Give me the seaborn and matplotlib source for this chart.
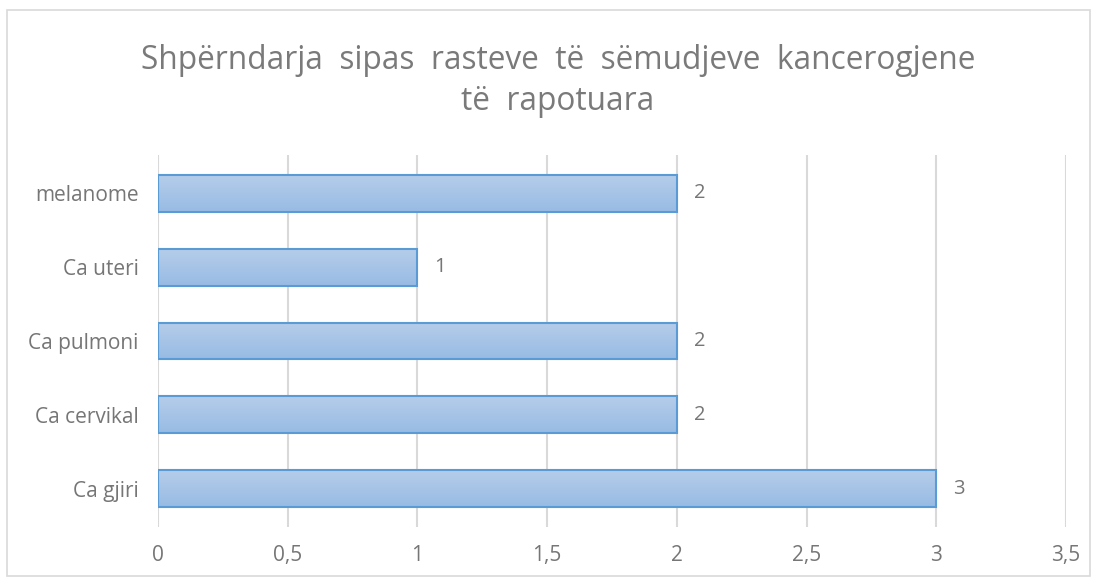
import numpy as np
import matplotlib
matplotlib.use("Agg")
import matplotlib.pyplot as plt
from matplotlib.patches import Rectangle
import seaborn as sns

# data
categories = ["melanome", "Ca uteri", "Ca pulmoni", "Ca cervikal", "Ca gjiri"]
cases = [2, 1, 2, 2, 3]
x_ticks = [0, 0.5, 1, 1.5, 2, 2.5, 3, 3.5]
x_tick_labels = ["0", "0,5", "1", "1,5", "2", "2,5", "3", "3,5"]
title = "Shpërndarja  sipas  rasteve  të  sëmudjeve  kancerogjene\ntë  rapotuara"

sns.set_theme(style="white")
plt.rcParams["font.family"] = ["Open Sans", "DejaVu Sans"]

grey = "#767676"
edge = "#5B9BD5"

fig = plt.figure(figsize=(10.97, 5.82), dpi=100)
ax = fig.add_axes([158 / 1097, 1 - 527 / 582, (1066 - 158) / 1097, (527 - 155) / 582])

sns.barplot(x=cases, y=categories, orient="h", width=0.5, color="#A9C6E8",
            edgecolor=edge, linewidth=1.5, ax=ax, zorder=3)

# vertical gradient inside each bar
grad = np.linspace(0, 1, 64).reshape(-1, 1)
cmap = matplotlib.colors.LinearSegmentedColormap.from_list("g", ["#B5CDEA", "#98BBE4"])
for p in ax.patches:
    x0, y0 = p.get_x(), p.get_y()
    w, h = p.get_width(), p.get_height()
    im = ax.imshow(grad, extent=(x0, x0 + w, y0 + h, y0), cmap=cmap, aspect="auto",
                   origin="upper", zorder=3)
    im.set_clip_path(p)
    p.set_facecolor("none")
    p.set_zorder(4)

for i, v in enumerate(cases):
    ax.text(v + 0.065, i, str(v), va="center", ha="left", fontsize=14.5, color=grey)

ax.set_xlim(0, 3.5)
ax.set_ylim(4.52, -0.52)
ax.set_xticks(x_ticks)
ax.set_xticklabels(x_tick_labels)
ax.grid(axis="x", color="#D9D9D9", linewidth=1.5, zorder=0)
ax.set_axisbelow(True)
for s in ax.spines.values():
    s.set_visible(False)
ax.tick_params(axis="both", length=0, labelsize=15, labelcolor=grey)
ax.tick_params(axis="x", pad=13)
ax.tick_params(axis="y", pad=14)
ax.set_xlabel("")
ax.set_ylabel("")

fig.text(558 / 1097, 1 - 81 / 582, title, ha="center", va="center", fontsize=22.8,
         color="#7A7A7A", linespacing=1.3)

fig.patches.append(Rectangle((7 / 1097, 1 - 576 / 582), 1083 / 1097, 566 / 582,
                             transform=fig.transFigure, fill=False,
                             edgecolor="#D9D9D9", linewidth=1.2))

fig.savefig("out.png", dpi=100)
